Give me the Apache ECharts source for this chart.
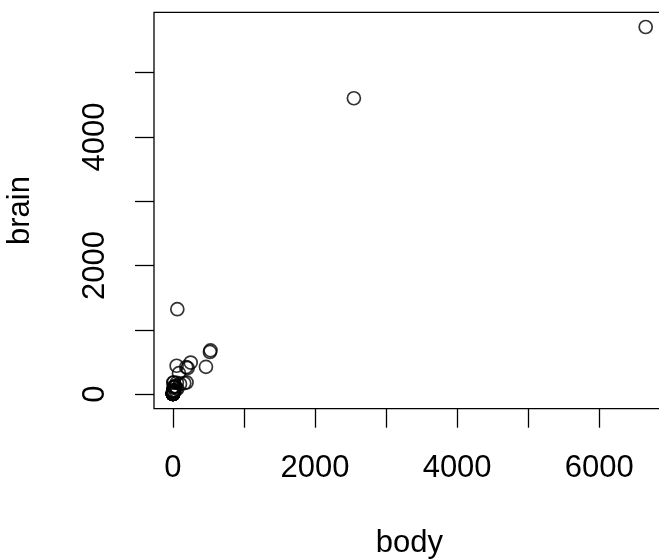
<!DOCTYPE html>
<html>
<head>
<meta charset="utf-8">
<script src="https://cdn.jsdelivr.net/npm/echarts@6/dist/echarts.min.js"></script>
<style>
	html,body{margin:0;padding:0;background:#fff;}
	#main{width:659px;height:560px;}
</style>
</head>
<body>
<div id="main"></div>
<script type="text/javascript">
	// mammals: body weight (kg) and brain weight (g)
	var body = [3.385,0.48,1.35,465,36.33,27.66,14.83,1.04,4.19,0.425,0.101,0.92,1,0.005,0.06,3.5,2,1.7,2547,0.023,
		187.1,521,0.785,10,3.3,0.2,1.41,529,207,85,0.75,62,6654,3.5,6.8,35,4.05,0.12,0.023,0.01,
		1.4,250,2.5,55.5,100,52.16,10.55,0.55,60,3.6,4.288,0.28,0.075,0.122,0.048,192,3,160,0.9,1.62,0.104,4.235];
	var brain = [44.5,15.5,8.1,423,119.5,115,98.2,5.5,58,6.4,4,5.7,6.6,0.14,1,10.8,12.3,6.3,4603,0.3,
		419,655,3.5,115,25.6,5,17.5,680,406,325,12.3,1320,5712,3.9,179,56,17,1,0.4,0.25,
		12.5,490,12.1,175,157,440,179.5,2.4,81,21,39.2,1.9,1.2,3,0.33,180,25,169,2.6,11.4,2.5,50.4];
	var xTicks = [0,1000,2000,3000,4000,5000,6000];
	var xLabels = [0,2000,4000,6000];
	var yTicks = [0,1000,2000,3000,4000,5000];
	var yLabels = [0,2000,4000];

	var points = body.map(function(b,i){ return [b, brain[i]]; });

	var font = 'Liberation Sans, Arial, Helvetica, sans-serif';
	var myChart = echarts.init(document.getElementById('main'));
	var option = {
		animation:false,
		backgroundColor:'#fff',
		grid:{
			left:154, top:12.3, width:510.6, height:396.4,
			outerBoundsMode:'none', containLabel:false,
			show:true, borderColor:'#000', borderWidth:1.3, backgroundColor:'transparent'
		},
		xAxis:{
			type:'value',
			min:-266.2, max:6920.2,
			name:'body', nameLocation:'middle', nameGap:119,
			nameTextStyle:{color:'#000', fontSize:31, fontFamily:font},
			axisLine:{show:false, onZero:false},
			axisTick:{show:true, inside:false, length:19, customValues:xTicks, lineStyle:{color:'#000', width:1.3}},
			axisLabel:{show:true, margin:44, customValues:xLabels, color:'#000', fontSize:31, fontFamily:font,
				formatter:function(v){ return String(v); }},
			splitLine:{show:false}
		},
		yAxis:{
			type:'value',
			min:-228.5, max:5940.5,
			name:'brain', nameLocation:'middle', nameGap:118,
			nameTextStyle:{color:'#000', fontSize:31, fontFamily:font},
			axisLine:{show:false, onZero:false},
			axisTick:{show:true, inside:false, length:19, customValues:yTicks, lineStyle:{color:'#000', width:1.3}},
			axisLabel:{show:true, rotate:90, margin:43, customValues:yLabels, color:'#000', fontSize:31, fontFamily:font,
				formatter:function(v){ return String(v); }},
			splitLine:{show:false}
		},
		series:[{
			type:'scatter',
			data:points,
			symbol:'circle',
			symbolSize:13,
			itemStyle:{color:'transparent', borderColor:'#000', borderWidth:1.7}
		}]
	};
	myChart.setOption(option);
</script>
</body>
</html>
